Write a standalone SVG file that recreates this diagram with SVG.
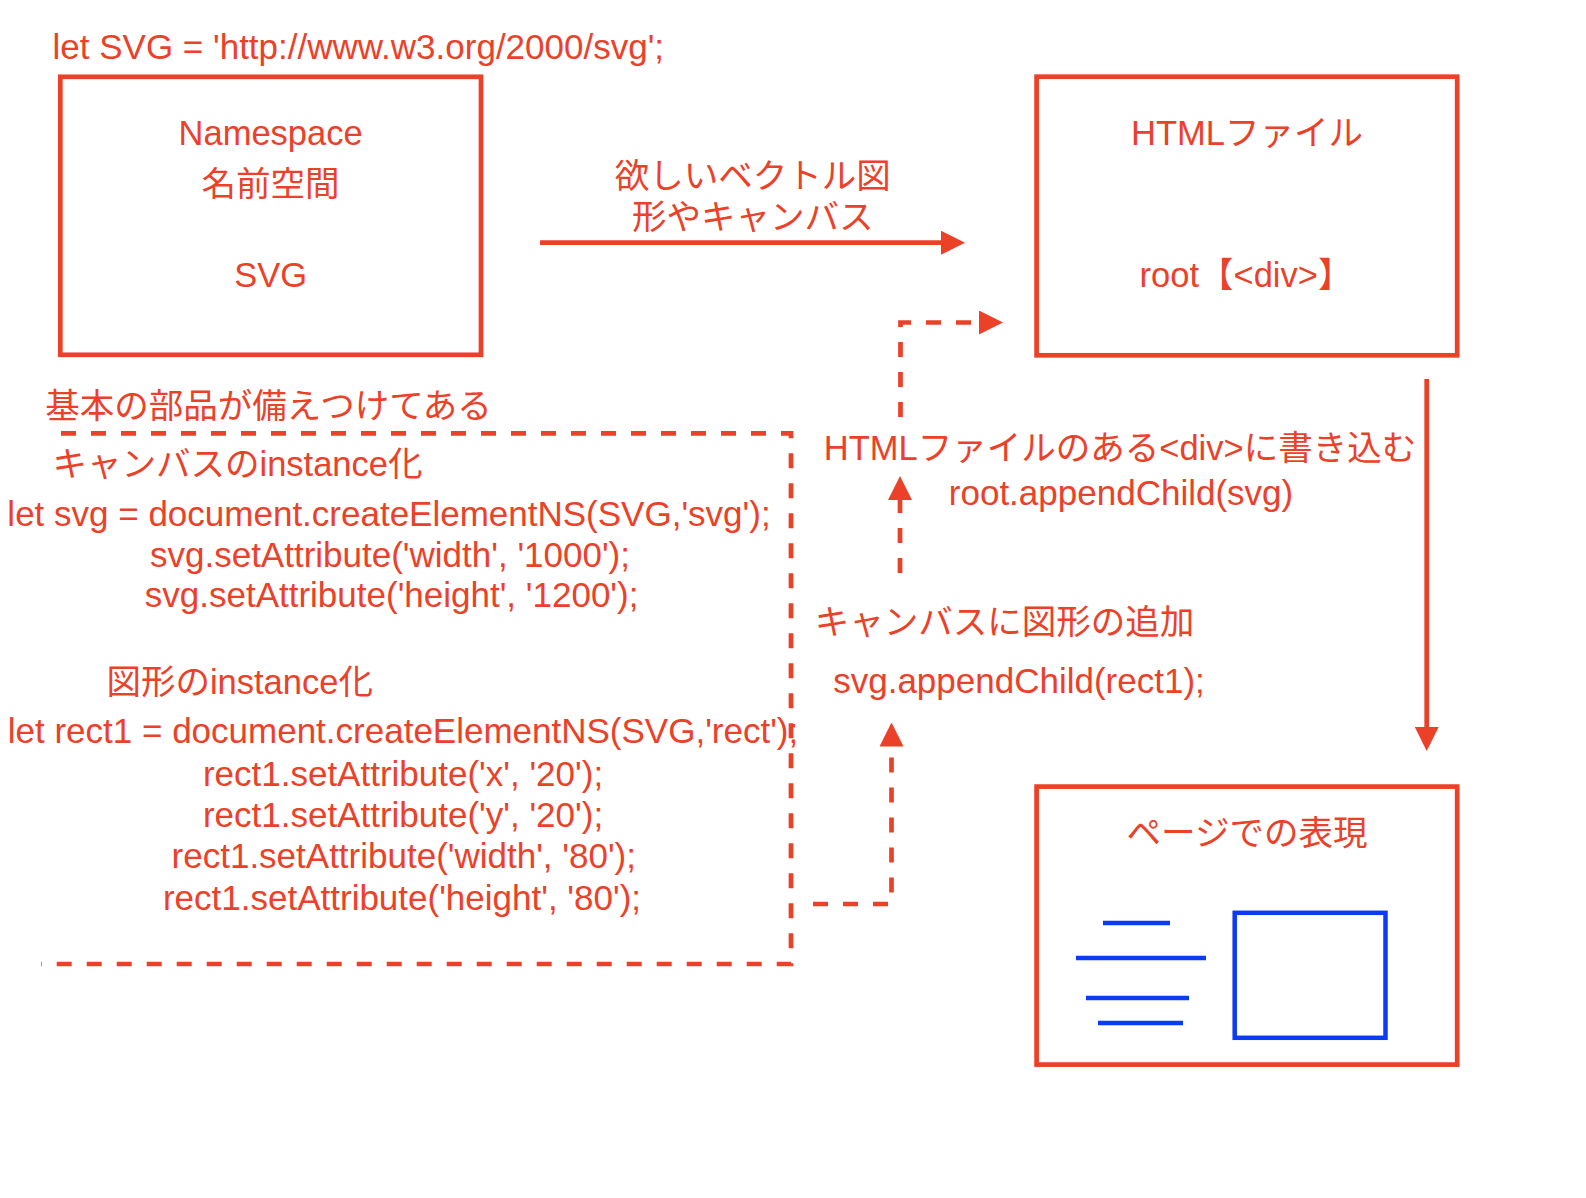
<svg xmlns="http://www.w3.org/2000/svg" width="1586" height="1198" viewBox="0 0 1586 1198">
<style>
.t{font-family:"Liberation Sans","Noto Sans CJK JP",sans-serif;font-size:34.5px;fill:#EC4129}
.l{font-size:35px}
.m{text-anchor:middle}
.box{fill:none;stroke:#EC4129;stroke-width:4.7}
.ln{fill:none;stroke:#EC4129;stroke-width:4.7}
.dash{stroke-dasharray:15 15}
.blue{fill:none;stroke:#0A3CF5;stroke-width:4.5}
</style>
<defs>
<marker id="ah" viewBox="0 0 24 24" markerWidth="24" markerHeight="24" refX="0" refY="12" orient="auto" markerUnits="userSpaceOnUse">
<path d="M0,0 L24,12 L0,24 z" fill="#EC4129"/>
</marker>
</defs>
<rect width="1586" height="1198" fill="#ffffff"/>

<text class="t l" x="52.5" y="58.5">let SVG = 'http://www.w3.org/2000/svg';</text>

<g id="namespace">
<rect class="box" x="60.3" y="76.8" width="420.7" height="278"/>
<text class="t m" x="270.6" y="145">Namespace</text>
<text class="t m" x="270.6" y="196">名前空間</text>
<text class="t m" x="270.6" y="286.7">SVG</text>
</g>

<g id="htmlfile">
<rect class="box" x="1036.6" y="76.7" width="420.6" height="278.6"/>
<text class="t m" x="1247" y="145">HTMLファイル</text>
<text class="t m" x="1246" y="286.7">root【&lt;div&gt;】</text>
</g>

<g id="page">
<rect class="box" x="1036.6" y="786.6" width="420.6" height="278"/>
<text class="t m" x="1247" y="845">ページでの表現</text>
<line class="blue" x1="1103" y1="923" x2="1170" y2="923"/>
<line class="blue" x1="1076" y1="958" x2="1206" y2="958"/>
<line class="blue" x1="1086" y1="998" x2="1189" y2="998"/>
<line class="blue" x1="1098" y1="1023" x2="1183" y2="1023"/>
<rect class="blue" x="1234.7" y="912.8" width="150.8" height="125"/>
</g>

<g id="code">
<text class="t m" x="268.5" y="417.5">基本の部品が備えつけてある</text>
<path class="ln dash" d="M61,433.3 H791 V964 H41"/>
<text class="t m" x="237.5" y="476">キャンバスのinstance化</text>
<text class="t l m" x="389" y="525.5">let svg = document.createElementNS(SVG,'svg');</text>
<text class="t l m" x="390" y="566.7">svg.setAttribute('width', '1000');</text>
<text class="t l m" x="391.6" y="607.3">svg.setAttribute('height', '1200');</text>
<text class="t m" x="239.7" y="694">図形のinstance化</text>
<text class="t l m" x="403" y="743.3">let rect1 = document.createElementNS(SVG,'rect');</text>
<text class="t l m" x="403" y="785.7">rect1.setAttribute('x', '20');</text>
<text class="t l m" x="403" y="826.7">rect1.setAttribute('y', '20');</text>
<text class="t l m" x="403.8" y="868.3">rect1.setAttribute('width', '80');</text>
<text class="t l m" x="402" y="910">rect1.setAttribute('height', '80');</text>
</g>

<g id="connectors">
<path class="ln" d="M540,242.7 H941" marker-end="url(#ah)"/>
<path class="ln dash" d="M900.5,417 V322.5 H979" marker-end="url(#ah)"/>
<path class="ln dash" d="M900,573 V500" marker-end="url(#ah)"/>
<path class="ln dash" d="M813,904 H891.5 V746.5" marker-end="url(#ah)"/>
<path class="ln" d="M1426.7,379 V727" marker-end="url(#ah)"/>
</g>

<g id="labels">
<text class="t m" x="752.8" y="187.5">欲しいベクトル図</text>
<text class="t m" x="752.8" y="229">形やキャンバス</text>
<text class="t m" x="1120" y="460">HTMLファイルのある&lt;div&gt;に書き込む</text>
<text class="t l m" x="1121" y="505">root.appendChild(svg)</text>
<text class="t m" x="1004.5" y="633.5">キャンバスに図形の追加</text>
<text class="t l m" x="1019" y="693.3">svg.appendChild(rect1);</text>
</g>
</svg>
